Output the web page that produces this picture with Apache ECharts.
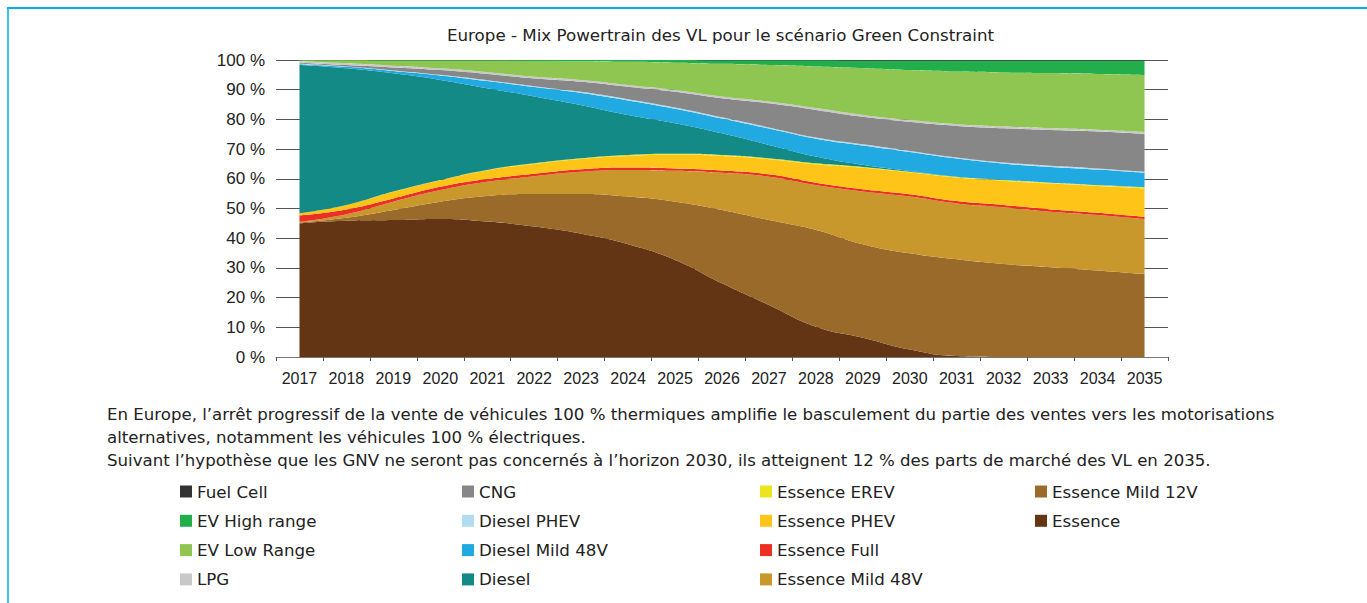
<!DOCTYPE html>
<html>
<head>
<meta charset="utf-8">
<title>Europe - Mix Powertrain des VL</title>
<script src="https://cdn.jsdelivr.net/npm/echarts@6/dist/echarts.min.js"></script>
<style>
    html, body { margin: 0; padding: 0; background: #fff; }
    #chart { width: 1367px; height: 603px; }
</style>
</head>
<body>
<div id="chart"></div>
<script>
    // années
    var years = ['2017', '2018', '2019', '2020', '2021', '2022', '2023', '2024', '2025', '2026',
                 '2027', '2028', '2029', '2030', '2031', '2032', '2033', '2034', '2035'];

    // parts de marché (%), du bas vers le haut
    var essence      = [45, 45.9, 46.1, 46.5, 45.6, 43.9, 41.5, 38.0, 32.7, 24.8, 17.5, 10.2, 6.5, 2.5, 0.3, 0, 0, 0, 0];
    var essenceMild12 = [0.3, 1.0, 3.4, 5.8, 8.6, 11.0, 13.4, 16.0, 19.6, 24.7, 28.6, 32.6, 31.5, 32.4, 32.6, 31.3, 30.2, 29.1, 27.9];
    var essenceMild48 = [0.2, 1.2, 2.8, 3.9, 4.8, 6.0, 7.5, 9.0, 10.4, 12.5, 14.6, 15.1, 17.7, 19.1, 18.8, 19.1, 18.7, 18.7, 18.5];
    var essenceFull  = [2.2, 1.6, 1.1, 1.1, 0.9, 0.8, 0.8, 0.8, 0.8, 0.8, 0.8, 0.8, 0.8, 0.8, 0.8, 0.8, 0.8, 0.8, 0.8];
    var essencePhev  = [0.7, 1.5, 2.2, 2.2, 2.9, 3.3, 3.5, 3.9, 4.6, 4.9, 5.1, 6.2, 7.2, 7.3, 7.9, 8.1, 8.7, 9.0, 9.6];
    var essenceErev  = [0, 0, 0.1, 0.1, 0.2, 0.2, 0.2, 0.3, 0.3, 0.3, 0.3, 0.3, 0.3, 0.3, 0.3, 0.3, 0.3, 0.3, 0.3];
    var diesel       = [49.9, 46.0, 39.8, 33.7, 27.5, 22.5, 17.9, 13.5, 10.3, 7.3, 4.5, 2.3, 0.7, 0.2, 0, 0, 0, 0, 0];
    var dieselMild48 = [0.3, 0.5, 0.8, 1.5, 2.4, 3.2, 4.1, 4.9, 4.9, 5.0, 5.5, 6.0, 6.5, 6.4, 6.1, 5.5, 5.3, 5.2, 4.9];
    var dieselPhev   = [0.1, 0.1, 0.2, 0.2, 0.3, 0.3, 0.4, 0.4, 0.4, 0.4, 0.4, 0.4, 0.4, 0.4, 0.4, 0.4, 0.4, 0.4, 0.4];
    var cng          = [0.4, 0.5, 1.0, 1.6, 2.1, 2.6, 3.4, 4.2, 5.3, 6.4, 8.1, 9.3, 9.3, 9.8, 10.6, 11.5, 12.0, 12.4, 12.7];
    var lpg          = [0.5, 0.6, 0.6, 0.6, 0.6, 0.6, 0.6, 0.6, 0.6, 0.6, 0.6, 0.6, 0.6, 0.6, 0.6, 0.6, 0.6, 0.6, 0.6];
    var evLow        = [0.3, 1.0, 1.7, 2.6, 3.9, 5.3, 6.3, 7.8, 9.2, 11.0, 12.3, 14.0, 15.7, 16.8, 17.7, 18.2, 18.5, 18.8, 19.2];
    var evHigh       = [0.1, 0.1, 0.2, 0.2, 0.2, 0.3, 0.4, 0.6, 0.9, 1.2, 1.6, 2.1, 2.6, 3.2, 3.7, 4.0, 4.3, 4.5, 4.9];
    var fuelCell     = [0, 0, 0, 0, 0, 0, 0, 0, 0, 0.1, 0.1, 0.1, 0.2, 0.2, 0.2, 0.2, 0.2, 0.2, 0.2];

    var yTicks = [0, 10, 20, 30, 40, 50, 60, 70, 80, 90, 100];

    var font = "'Liberation Sans', Arial, sans-serif";
    var wideFont = "'DejaVu Sans', sans-serif";

    // ordre d'empilement (bas -> haut)
    var stackList = [
        { name: 'Essence', data: essence, color: '#643514' },
        { name: 'Essence Mild 12V', data: essenceMild12, color: '#9a6a2b' },
        { name: 'Essence Mild 48V', data: essenceMild48, color: '#c9982c' },
        { name: 'Essence Full', data: essenceFull, color: '#ec2f24' },
        { name: 'Essence PHEV', data: essencePhev, color: '#fec418' },
        { name: 'Essence EREV', data: essenceErev, color: '#ece41e' },
        { name: 'Diesel', data: diesel, color: '#148a86' },
        { name: 'Diesel Mild 48V', data: dieselMild48, color: '#21a9e1' },
        { name: 'Diesel PHEV', data: dieselPhev, color: '#b2dcf1' },
        { name: 'CNG', data: cng, color: '#878787' },
        { name: 'LPG', data: lpg, color: '#c8c8c8' },
        { name: 'EV Low Range', data: evLow, color: '#8fc652' },
        { name: 'EV High range', data: evHigh, color: '#22ae4b' },
        { name: 'Fuel Cell', data: fuelCell, color: '#333333' }
    ];

    var series = stackList.map(function (s) {
        return {
            name: s.name,
            type: 'line',
            stack: 'total',
            smooth: true,
            showSymbol: false,
            symbol: 'rect',
            lineStyle: { width: 0 },
            areaStyle: { color: s.color, opacity: 1 },
            itemStyle: { color: s.color },
            data: s.data
        };
    });

    function makeLegend(names, left) {
        return {
            data: names,
            orient: 'vertical',
            left: left,
            top: 483,
            itemWidth: 12,
            itemHeight: 12,
            itemGap: 12.3,
            icon: 'rect',
            padding: 0,
            selectedMode: false,
            textStyle: { fontSize: 16.7, lineHeight: 16, color: '#222', fontFamily: wideFont }
        };
    }

    var chart = echarts.init(document.getElementById('chart'), null, { renderer: 'svg' });
    chart.setOption({
        animation: false,
        title: {
            text: 'Europe - Mix Powertrain des VL pour le scénario Green Constraint',
            left: 447,
            top: 26,
            padding: 0,
            textStyle: { fontSize: 16.7, fontWeight: 'normal', color: '#222', fontFamily: wideFont }
        },
        legend: [
            makeLegend(['Fuel Cell', 'EV High range', 'EV Low Range', 'LPG'], 180),
            makeLegend(['CNG', 'Diesel PHEV', 'Diesel Mild 48V', 'Diesel'], 462),
            makeLegend(['Essence EREV', 'Essence PHEV', 'Essence Full', 'Essence Mild 48V'], 760),
            makeLegend(['Essence Mild 12V', 'Essence'], 1035)
        ],
        grid: { left: 276, right: 199, top: 60, bottom: 246 },
        xAxis: {
            type: 'category',
            data: years,
            boundaryGap: true,
            axisLine: { lineStyle: { color: '#777', width: 1 } },
            axisTick: { show: true, length: 4, lineStyle: { color: '#555' } },
            axisLabel: { fontSize: 16, color: '#222', margin: 13, fontFamily: font }
        },
        yAxis: {
            type: 'value',
            min: yTicks[0],
            max: yTicks[yTicks.length - 1],
            interval: 10,
            axisLine: { show: false },
            axisTick: { show: false },
            splitLine: { show: true, lineStyle: { color: '#555', width: 1 } },
            axisLabel: { formatter: '{value} %', fontSize: 17, color: '#222', margin: 11, fontFamily: font }
        },
        graphic: [
            { type: 'line', shape: { x1: 7, y1: 8, x2: 1367, y2: 8 }, style: { stroke: '#00aeef', lineWidth: 2 } },
            { type: 'line', shape: { x1: 8, y1: 8, x2: 8, y2: 603 }, style: { stroke: '#00aeef', lineWidth: 1.5 } },
            {
                type: 'text', left: 107, top: 403,
                style: {
                    text: 'En Europe, l\u2019arrêt progressif de la vente de véhicules 100 % thermiques amplifie le basculement du partie des ventes vers les motorisations\nalternatives, notamment les véhicules 100 % électriques.\nSuivant l\u2019hypothèse que les GNV ne seront pas concernés à l\u2019horizon 2030, ils atteignent 12 % des parts de marché des VL en 2035.',
                    font: '16.6px ' + wideFont,
                    lineHeight: 23,
                    fill: '#222'
                }
            }
        ],
        series: series
    });
</script>
</body>
</html>
